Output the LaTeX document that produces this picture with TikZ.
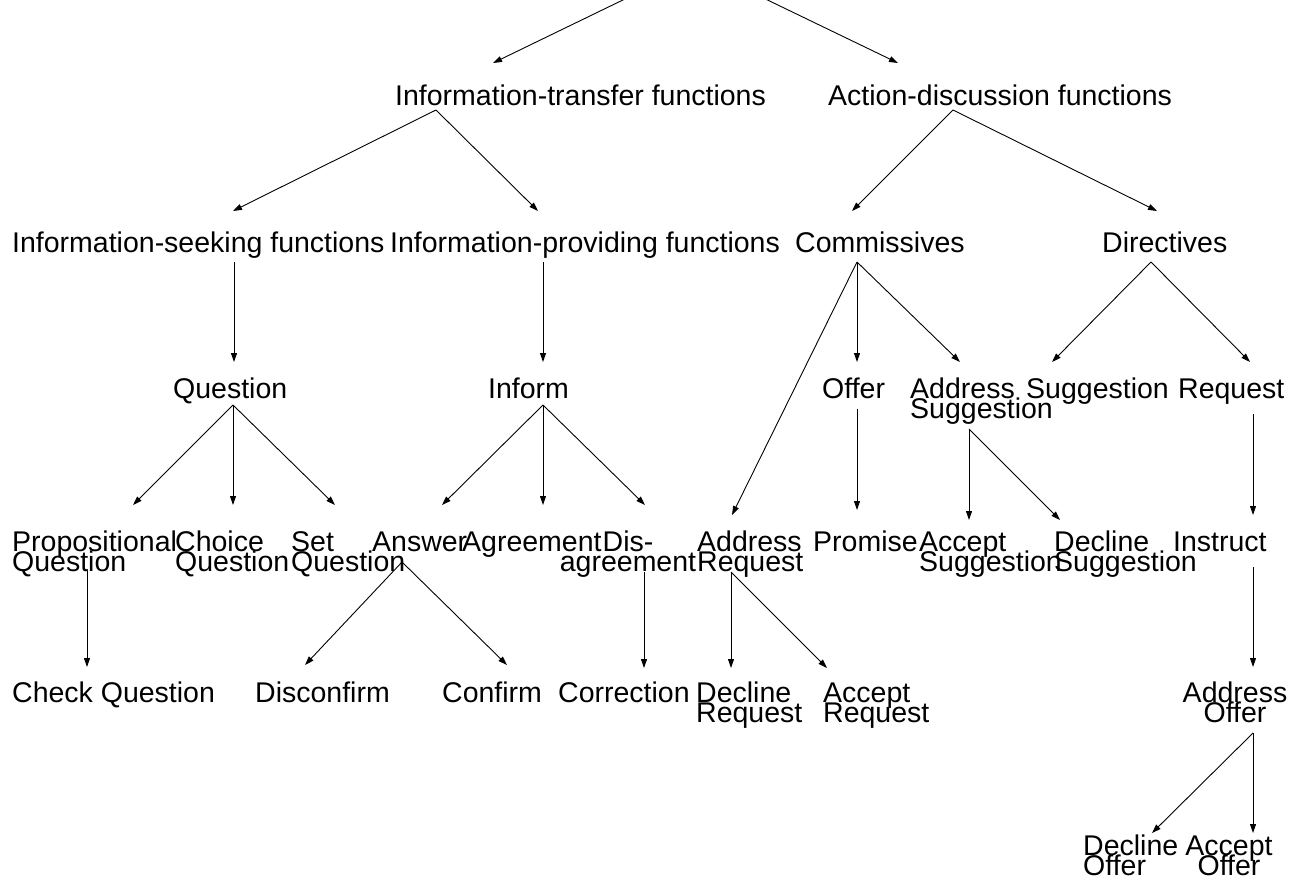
\documentclass[tikz,border=0pt]{standalone}
\usepackage{fontspec}
\setmainfont{Liberation Sans}
\usetikzlibrary{arrows.meta}
\newcommand{\lblfont}{\fontsize{28.5}{20}\selectfont\lineskiplimit=-100pt\relax}

\begin{document}
\begin{tikzpicture}[x=1pt,y=-1pt,
    lbl/.style={inner sep=0pt,anchor=base west,font=\lblfont},
    lbltwo/.style={lbl,align=left,yshift=-20pt},
    lblmid/.style={lbl,anchor=base,align=center,yshift=-20pt},
    arr/.style={-{Triangle[length=9pt,width=6pt]},line width=0.9pt}]
\useasboundingbox (0,0) rectangle (1289,878); % area del disegno

% level 1
\node[lbl] (itf) at (395,105) {Information-transfer functions};
\node[lbl] (adf) at (828,105) {Action-discussion functions};
% level 2
\node[lbl] (isf) at (12,252) {Information-seeking functions};
\node[lbl] (ipf) at (390,252) {Information-providing functions};
\node[lbl] (comm) at (795,252) {Commissives};
\node[lbl] (dir) at (1102,252) {Directives};
% level 3
\node[lbl] (quest) at (173,398) {Question};
\node[lbl] (inform) at (488,398) {Inform};
\node[lbl] (offer) at (822,398) {Offer};
\node[lbltwo] (addsug) at (910,398) {Address\\Suggestion};
\node[lbl] (sugg) at (1026,398) {Suggestion};
\node[lbl] (req) at (1178,398) {Request};
% level 4
\node[lbltwo] (propq) at (12,551) {Propositional\\Question};
\node[lbltwo] (choiceq) at (175,551) {Choice\\Question};
\node[lbltwo] (setq) at (291,551) {Set\\Question};
\node[lbl] (answer) at (372,551) {Answer};
\node[lbl] (agree) at (462,551) {Agreement};
\node[lblmid] (disagree) at (628,551) {Dis-\\agreement};
\node[lbltwo] (addreq) at (697,551) {Address\\Request};
\node[lbl] (promise) at (813,551) {Promise};
\node[lbltwo] (accsug) at (919,551) {Accept\\Suggestion};
\node[lbltwo] (decsug) at (1054,551) {Decline\\Suggestion};
\node[lbl] (instruct) at (1173,551) {Instruct};
% level 5
\node[lbl] (checkq) at (12,702) {Check Question};
\node[lbl] (disconf) at (255,702) {Disconfirm};
\node[lbl] (confirm) at (442,702) {Confirm};
\node[lbl] (correct) at (558,702) {Correction};
\node[lbltwo] (decreq) at (696,702) {Decline\\Request};
\node[lbltwo] (accreq) at (823,702) {Accept\\Request};
\node[lblmid] (addoff) at (1235,702) {Address\\Offer};
% level 6
\node[lbltwo] (decoff) at (1083,855) {Decline\\Offer};
\node[lblmid] (accoff) at (1229,855) {Accept\\Offer};

% punti di attacco degli archi
\coordinate (root) at (695,-35); % radice, fuori dal disegno
\coordinate (itf-in) at (493,63); \coordinate (itf-out) at (436,110);
\coordinate (adf-in) at (898,63); \coordinate (adf-out) at (953,110);
\coordinate (isf-in) at (233,211); \coordinate (isf-out) at (234,262);
\coordinate (ipf-in) at (538,211); \coordinate (ipf-out) at (543,262);
\coordinate (comm-in) at (852,211); \coordinate (comm-out) at (857,262);
\coordinate (dir-in) at (1157,211); \coordinate (dir-out) at (1151,262);
\coordinate (quest-in) at (234,362); \coordinate (quest-out) at (233,405);
\coordinate (inform-in) at (543,362); \coordinate (inform-out) at (543,405);
\coordinate (offer-in) at (857,362); \coordinate (offer-out) at (857,409);
\coordinate (addsug-in) at (960,362); \coordinate (addsug-out) at (969,429);
\coordinate (sugg-in) at (1052,362);
\coordinate (req-in) at (1250,362); \coordinate (req-out) at (1253,414);
\coordinate (propq-in) at (133,505); \coordinate (propq-out) at (87,571);
\coordinate (choiceq-in) at (233,505);
\coordinate (setq-in) at (335,505);
\coordinate (answer-in) at (442,505); \coordinate (answer-out) at (402,562);
\coordinate (agree-in) at (543,505);
\coordinate (disagree-in) at (645,505); \coordinate (disagree-out) at (644,572);
\coordinate (addreq-in) at (732,515); \coordinate (addreq-out) at (731,572);
\coordinate (promise-in) at (857,510);
\coordinate (accsug-in) at (969,520);
\coordinate (decsug-in) at (1060,520);
\coordinate (instruct-in) at (1253,515); \coordinate (instruct-out) at (1253,567);
\coordinate (checkq-in) at (87,667);
\coordinate (disconf-in) at (305,665);
\coordinate (confirm-in) at (507,665);
\coordinate (correct-in) at (644,668);
\coordinate (decreq-in) at (731,668);
\coordinate (accreq-in) at (827,668);
\coordinate (addoff-in) at (1253,667); \coordinate (addoff-out) at (1253,733);
\coordinate (decoff-in) at (1152,833);
\coordinate (accoff-in) at (1253,833);

% archi
\draw[arr] (root) -- (itf-in);
\draw[arr] (root) -- (adf-in);
\draw[arr] (itf-out) -- (isf-in);
\draw[arr] (itf-out) -- (ipf-in);
\draw[arr] (adf-out) -- (comm-in);
\draw[arr] (adf-out) -- (dir-in);
\draw[arr] (isf-out) -- (quest-in);
\draw[arr] (ipf-out) -- (inform-in);
\draw[arr] (comm-out) -- (offer-in);
\draw[arr] (comm-out) -- (addsug-in);
\draw[arr] (comm-out) -- (addreq-in);
\draw[arr] (dir-out) -- (sugg-in);
\draw[arr] (dir-out) -- (req-in);
\draw[arr] (quest-out) -- (propq-in);
\draw[arr] (quest-out) -- (choiceq-in);
\draw[arr] (quest-out) -- (setq-in);
\draw[arr] (inform-out) -- (answer-in);
\draw[arr] (inform-out) -- (agree-in);
\draw[arr] (inform-out) -- (disagree-in);
\draw[arr] (offer-out) -- (promise-in);
\draw[arr] (addsug-out) -- (accsug-in);
\draw[arr] (addsug-out) -- (decsug-in);
\draw[arr] (req-out) -- (instruct-in);
\draw[arr] (propq-out) -- (checkq-in);
\draw[arr] (answer-out) -- (disconf-in);
\draw[arr] (answer-out) -- (confirm-in);
\draw[arr] (disagree-out) -- (correct-in);
\draw[arr] (addreq-out) -- (decreq-in);
\draw[arr] (addreq-out) -- (accreq-in);
\draw[arr] (instruct-out) -- (addoff-in);
\draw[arr] (addoff-out) -- (decoff-in);
\draw[arr] (addoff-out) -- (accoff-in);
\end{tikzpicture}
\end{document}
